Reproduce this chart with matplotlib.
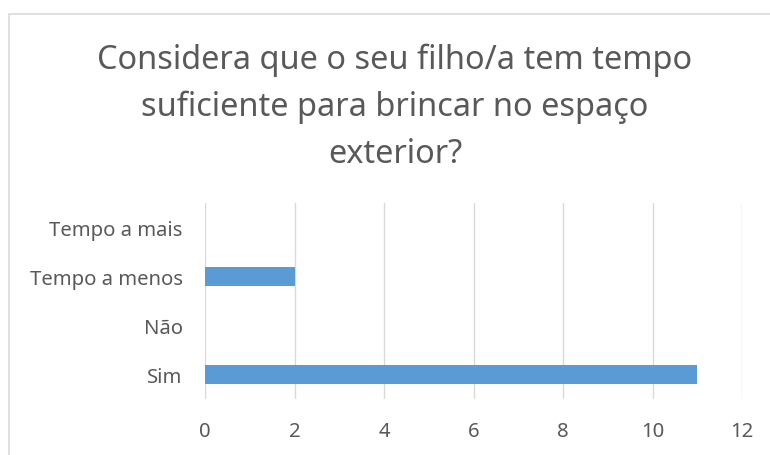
import numpy as np
import matplotlib
matplotlib.use("Agg")
from matplotlib import pyplot as plt
from matplotlib.patches import Rectangle

categories = ["Sim", "Não", "Tempo a menos", "Tempo a mais"]
values = [11, 0, 2, 0]
xticks = [0, 2, 4, 6, 8, 10, 12]
title = "Considera que o seu filho/a tem tempo\nsuficiente para brincar no espaço\nexterior?"

plt.rcParams['font.family'] = ['Noto Sans', 'DejaVu Sans']
W, H = 770, 456
fig = plt.figure(figsize=(W / 100, H / 100), dpi=100)

# chart border (only left and top edges are visible in the reference)
fig.patches.append(Rectangle((9 / W, -0.1), 1.2, 1 - 15 / H + 0.1, transform=fig.transFigure,
                             fill=False, edgecolor='#D9D9D9', linewidth=1.2))

ax = fig.add_axes([205 / W, 1 - 400 / H, (742 - 205) / W, 196 / H])
y = np.arange(len(categories))
ax.barh(y, values, height=0.38, color='#5B9BD5', zorder=3)
ax.set_ylim(-0.5, len(categories) - 0.5)
ax.set_xlim(0, 12)
ax.set_xticks(xticks)
ax.set_yticks(y)
ax.set_yticklabels(categories)
ax.grid(axis='x', color='#D9D9D9', linewidth=1.0, zorder=0)
for s in ax.spines.values():
    s.set_visible(False)
ax.tick_params(axis='both', length=0, labelsize=14.6, labelcolor='#595959')
ax.tick_params(axis='x', pad=16)
ax.tick_params(axis='y', pad=16)

fig.text(395 / W, 1 - 107 / H, title, ha='center', va='center', fontsize=23.4,
         color='#595959', linespacing=1.55)

fig.savefig("out.png", dpi=100)
